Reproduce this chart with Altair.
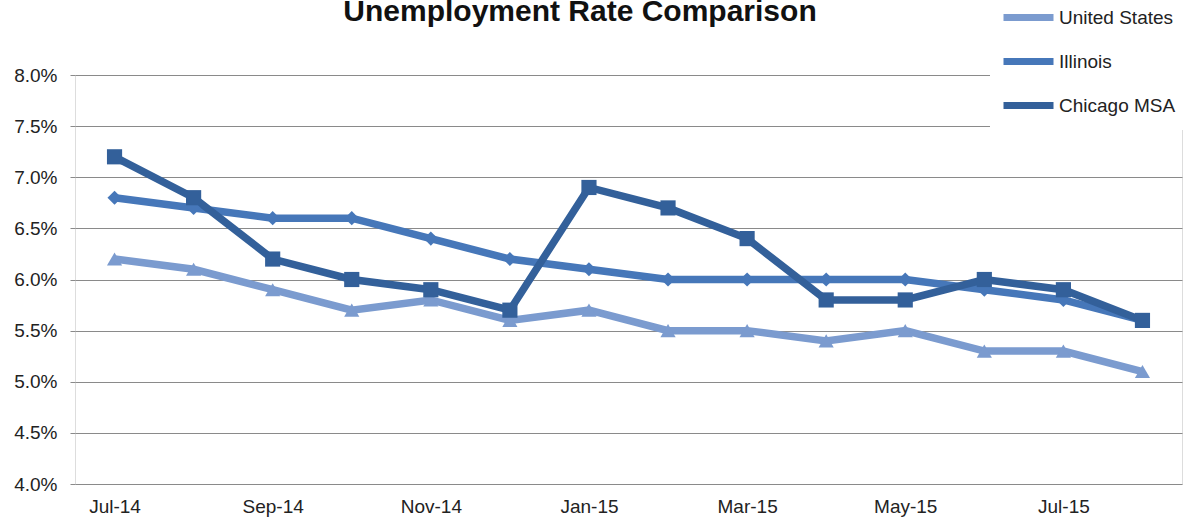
import altair as alt
import pandas as pd

chart_title = "Unemployment Rate Comparison"
months = ["Jul-14", "Aug-14", "Sep-14", "Oct-14", "Nov-14", "Dec-14", "Jan-15",
          "Feb-15", "Mar-15", "Apr-15", "May-15", "Jun-15", "Jul-15", "Aug-15"]
us = [6.2, 6.1, 5.9, 5.7, 5.8, 5.6, 5.7, 5.5, 5.5, 5.4, 5.5, 5.3, 5.3, 5.1]
illinois = [6.8, 6.7, 6.6, 6.6, 6.4, 6.2, 6.1, 6.0, 6.0, 6.0, 6.0, 5.9, 5.8, 5.6]
chicago = [7.2, 6.8, 6.2, 6.0, 5.9, 5.7, 6.9, 6.7, 6.4, 5.8, 5.8, 6.0, 5.9, 5.6]

series = ["United States", "Illinois", "Chicago MSA"]
colors = ["#7b9bcf", "#4677b9", "#33609a"]
shapes = ["triangle-up", "diamond", "square"]
marker_sizes = [230, 200, 230]

rows = []
for name, vals in zip(series, [us, illinois, chicago]):
    for m, v in zip(months, vals):
        rows.append({"Month": m, "Series": name, "Rate": v / 100})
df = pd.DataFrame(rows)

FONT = "Liberation Sans"

x = alt.X("Month:O", sort=months,
          scale=alt.Scale(type="point", padding=0.5),
          axis=alt.Axis(title=None, labelAngle=0, ticks=False, domain=False,
                        values=months[::2], labelFontSize=19, labelFont=FONT,
                        labelColor="#222", labelPadding=13))
y = alt.Y("Rate:Q", scale=alt.Scale(domain=[0.04, 0.08], nice=False, zero=False),
          axis=alt.Axis(title=None, format=".1%", values=[0.04 + 0.005 * i for i in range(9)],
                        grid=True, gridColor="#8a8a8a", gridWidth=1.2,
                        domain=False, tickSize=5, tickColor="#8a8a8a",
                        labelFontSize=19, labelFont=FONT, labelColor="#222",
                        labelPadding=13))
color = alt.Color("Series:N", sort=series,
                  scale=alt.Scale(domain=series, range=colors),
                  legend=alt.Legend(title=None, orient="none", legendX=915, legendY=-96,
                                    fillColor="white", padding=10,
                                    symbolType="stroke", symbolSize=2500,
                                    symbolStrokeWidth=7, labelFontSize=19,
                                    labelFont=FONT, labelColor="#222",
                                    labelOffset=2, rowPadding=1))

base = alt.Chart(df)
lines = base.mark_line(strokeWidth=7.5).encode(x=x, y=y, color=color)

# one marker layer per series, each with its own fixed shape
marker_layers = [
    base.transform_filter(alt.datum.Series == name)
    .mark_point(filled=True, opacity=1, shape=shp, size=sz)
    .encode(x=x, y=y, color=alt.Color("Series:N", legend=None))
    for name, shp, sz in zip(series, shapes, marker_sizes)
]

# heading text, sitting above the plot area
heading = alt.Chart(pd.DataFrame({"t": [chart_title]})).mark_text(
    font=FONT, fontSize=30, fontWeight="bold", color="#111",
    align="center", baseline="alphabetic",
).encode(text="t:N", x=alt.value(505), y=alt.value(-54))

chart = alt.layer(lines, *marker_layers, heading).properties(
    width=1107, height=409,
    autosize=alt.AutoSizeParams(type="none"),
    padding={"left": 75, "top": 75, "right": 1, "bottom": 35},
).configure_view(fill="#e9ebf1", stroke="#8a8a8a", strokeWidth=1.2
).configure(background="white")

chart.save("out.html", embed_options={"renderer": "svg", "actions": False})
